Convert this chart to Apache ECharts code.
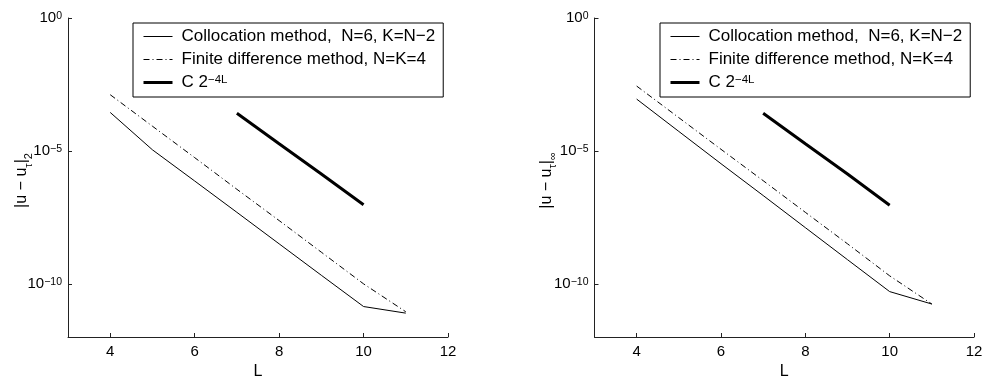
<!DOCTYPE html>
<html>
<head>
<meta charset="utf-8">
<script src="https://cdn.jsdelivr.net/npm/echarts@6/dist/echarts.min.js"></script>
<style>
html,body{margin:0;padding:0;background:#fff;}
#chart{width:986px;height:376px;}
</style>
</head>
<body>
<div id="chart"></div>
<script>
// Levels L
const levels = [4, 5, 6, 7, 8, 9, 10, 11];
const refLevels = [7, 8, 9, 10];
const xTicks = [4, 6, 8, 10, 12];
const yTicks = [1e-10, 1e-5, 1];

// Left panel: |u - u_tau|_2
const leftColloc = [2.8e-4, 1.1e-5, 7.4e-7, 4.9e-8, 3.2e-9, 2.1e-10, 1.4e-11, 7.9e-12];
const leftFD     = [1.3e-3, 8.5e-5, 5.6e-6, 3.6e-7, 2.4e-8, 1.55e-9, 1.0e-10, 8.9e-12];
const leftRef    = [2.6e-4, 1.86e-5, 1.35e-6, 9.5e-8];

// Right panel: |u - u_tau|_inf
const rightColloc = [8.9e-4, 5.4e-5, 3.3e-6, 2.1e-7, 1.3e-8, 8.1e-10, 5.1e-11, 1.74e-11];
const rightFD     = [2.75e-3, 1.78e-4, 1.15e-5, 7.6e-7, 4.9e-8, 3.2e-9, 2.0e-10, 1.74e-11];
const rightRef    = [2.6e-4, 1.86e-5, 1.35e-6, 9.0e-8];

const nameColloc = 'Collocation method,  N=6, K=N\u22122';
const nameFD = 'Finite difference method, N=K=4';
const nameRef = 'C 2^-4L';

const FONT = 'Liberation Sans, Arial, sans-serif';

function pairs(xs, ys) { return xs.map((x, i) => [x, ys[i]]); }

const chart = echarts.init(document.getElementById('chart'), null, {renderer: 'canvas'});

function xAxis(gi) {
  return {
    type: 'value', gridIndex: gi, min: 3, max: 12,
    name: 'L', nameLocation: 'middle', nameGap: 22,
    nameTextStyle: {fontFamily: FONT, fontSize: 16, color: '#000'},
    axisLine: {show: true, lineStyle: {color: '#222', width: 1}},
    axisTick: {show: true, inside: true, length: 4, customValues: xTicks, lineStyle: {color: '#222'}},
    axisLabel: {customValues: xTicks, fontFamily: FONT, fontSize: 15, color: '#000', margin: 7},
    splitLine: {show: false}
  };
}

const supRich = {
  b: {fontFamily: FONT, fontSize: 15, lineHeight: 15, verticalAlign: 'bottom', color: '#000'},
  sup: {fontFamily: FONT, fontSize: 10.5, lineHeight: 10, verticalAlign: 'top', padding: [0, 0, 9, 0], color: '#000'}
};

function yAxis(gi, subName, gap) {
  return {
    type: 'log', logBase: 10, gridIndex: gi, min: 1e-12, max: 1,
    name: '{b||u \u2212 u}{sub|\u03c4}{b||}{sub|' + subName + '}',
    nameLocation: 'middle', nameRotate: 90, nameGap: gap, nameMoveOverlap: false,
    nameTextStyle: {
      padding: [0, 6, 0, 0],
      rich: {
        b: {fontFamily: FONT, fontSize: 16, lineHeight: 16, verticalAlign: 'top', color: '#000'},
        sub: {fontFamily: FONT, fontSize: 11, lineHeight: 11, verticalAlign: 'top', padding: [9, 0, 0, 0], color: '#000'}
      }
    },
    axisLine: {show: true, lineStyle: {color: '#222', width: 1}},
    axisTick: {show: true, inside: true, length: 4, customValues: yTicks, lineStyle: {color: '#222'}},
    axisLabel: {
      customValues: yTicks, margin: 6,
      formatter: function (v) {
        const e = Math.round(Math.log10(v));
        return '{b|10}{sup|' + (e === 0 ? '0' : '\u2212' + (-e)) + '}';
      },
      rich: supRich
    },
    splitLine: {show: false}
  };
}

function legend(left) {
  return {
    left: left, top: 23, orient: 'vertical',
    data: [
      {name: nameColloc, lineStyle: {width: 1, color: '#000'}},
      {name: nameFD, lineStyle: {width: 1, color: '#000', type: [6, 3, 1, 3]}},
      {name: nameRef, lineStyle: {width: 3, color: '#000'}}
    ],
    borderColor: '#000', borderWidth: 1, backgroundColor: '#fff',
    padding: [5, 8, 4, 9],
    itemGap: 6, itemWidth: 29, itemHeight: 16,
    selectedMode: false,
    itemStyle: {opacity: 0},
    formatter: function (n) {
      if (n === nameRef) return '{t|C 2}{sup|\u22124L}';
      return '{t|' + n + '}';
    },
    textStyle: {
      fontFamily: FONT, fontSize: 17, color: '#000', padding: [0, 0, 0, 4],
      rich: {
        t: {fontFamily: FONT, fontSize: 17, lineHeight: 17, verticalAlign: 'bottom', color: '#000'},
        sup: {fontFamily: FONT, fontSize: 11.5, lineHeight: 11, verticalAlign: 'top', padding: [0, 0, 7, 0], color: '#000'}
      }
    }
  };
}

function series(gi, coll, fd, ref) {
  return [
    {name: nameColloc, type: 'line', xAxisIndex: gi, yAxisIndex: gi, symbol: 'none', silent: true,
     itemStyle: {color: '#000'},
     lineStyle: {color: '#000', width: 1}, data: pairs(levels, coll)},
    {name: nameFD, type: 'line', xAxisIndex: gi, yAxisIndex: gi, symbol: 'none', silent: true,
     itemStyle: {color: '#000'},
     lineStyle: {color: '#000', width: 1, type: [6, 3, 1, 3]}, data: pairs(levels, fd)},
    {name: nameRef, type: 'line', xAxisIndex: gi, yAxisIndex: gi, symbol: 'none', silent: true,
     itemStyle: {color: '#000'},
     lineStyle: {color: '#000', width: 3}, data: pairs(refLevels, ref)}
  ];
}

chart.setOption({
  animation: false,
  backgroundColor: '#fff',
  grid: [
    {left: 68, top: 18, width: 380, height: 319, outerBoundsMode: 'none', containLabel: false},
    {left: 594.5, top: 18, width: 379.5, height: 319, outerBoundsMode: 'none', containLabel: false}
  ],
  legend: [legend(133), legend(660)],
  xAxis: [xAxis(0), xAxis(1)],
  yAxis: [yAxis(0, '2', 38), yAxis(1, '\u221e', 40)],
  series: [].concat(series(0, leftColloc, leftFD, leftRef), series(1, rightColloc, rightFD, rightRef))
});
</script>
</body>
</html>
